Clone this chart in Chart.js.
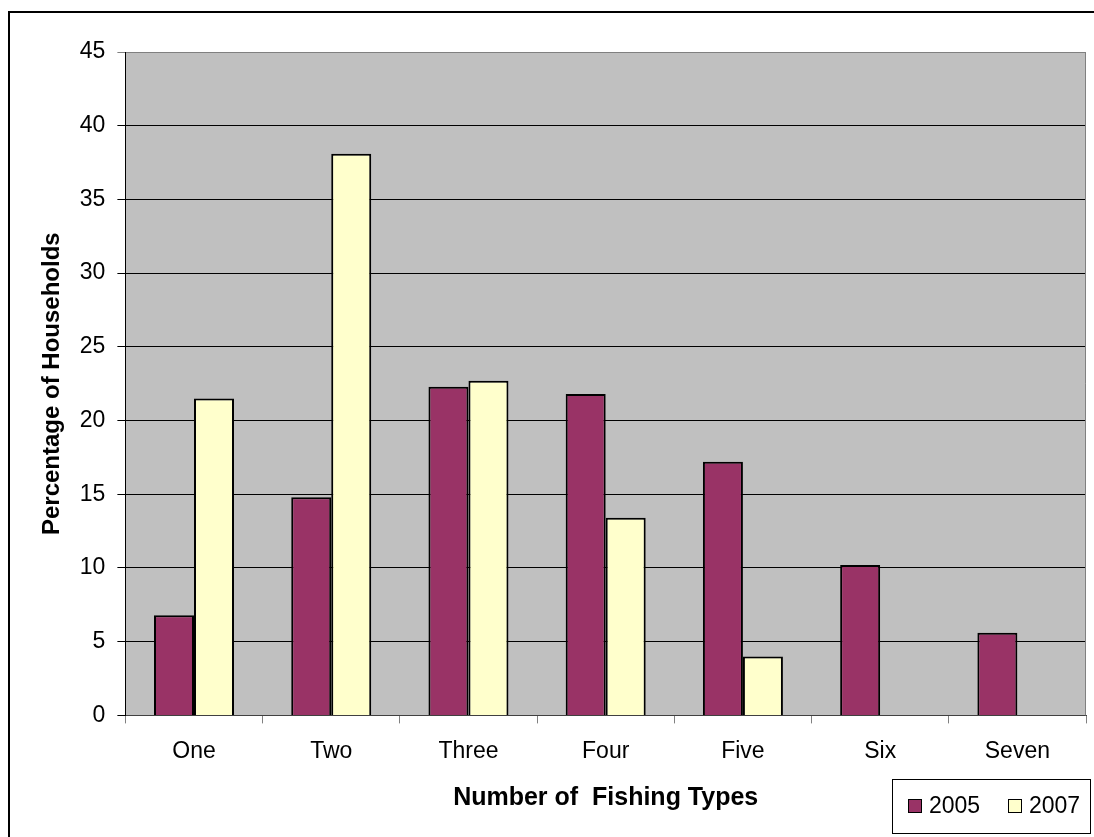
<!DOCTYPE html>
<html>
<head>
<meta charset="utf-8">
<title>Number of Fishing Types</title>
<script src="https://cdn.jsdelivr.net/npm/chart.js@4/dist/chart.umd.min.js"></script>
<style>
  html, body { margin: 0; padding: 0; background: #fff; overflow: hidden; }
  #wrap { position: absolute; left: 0; top: 0; width: 1094px; height: 837px; }
</style>
</head>
<body>
<div id="wrap"><canvas id="fishChart"></canvas></div>
<script>
// Share of households by number of fishing types used
const categories = ['One', 'Two', 'Three', 'Four', 'Five', 'Six', 'Seven'];
const households2005 = [6.8, 14.8, 22.3, 21.8, 17.2, 10.2, 5.6];
const households2007 = [21.5, 38.1, 22.7, 13.4, 4.0, null, null];
const yTickValues = [0, 5, 10, 15, 20, 25, 30, 35, 40, 45];

const FONT = '"Liberation Sans", Arial, sans-serif';
Chart.defaults.font.family = FONT;
Chart.defaults.color = '#000';

// page frame + grey plot area
const plotBackground = {
    id: 'plotBackground',
    beforeDraw(chart) {
        const ctx = chart.ctx;
        const a = chart.chartArea;
        ctx.save();
        ctx.fillStyle = '#fff';
        ctx.fillRect(0, 0, chart.width, chart.height);
        ctx.strokeStyle = '#000';
        ctx.lineWidth = 2;
        ctx.strokeRect(9, 12, chart.width + 20, chart.height + 20);
        ctx.fillStyle = '#c0c0c0';
        ctx.fillRect(a.left, a.top, a.right - a.left, a.bottom - a.top);
        ctx.restore();
    },
    beforeDatasetsDraw(chart) {
        const ctx = chart.ctx;
        const a = chart.chartArea;
        ctx.save();
        ctx.strokeStyle = '#808080';
        ctx.lineWidth = 1;
        ctx.beginPath();
        ctx.moveTo(a.right - 0.5, a.top);
        ctx.lineTo(a.right - 0.5, a.bottom);
        ctx.stroke();
        ctx.restore();
    }
};

// boxed legend in the bottom right corner
const boxLegend = {
    id: 'boxLegend',
    afterDraw(chart) {
        const ctx = chart.ctx;
        const a = chart.chartArea;
        const boxX = a.right - 194, boxY = 779, boxW = 198, boxH = 54;
        ctx.save();
        ctx.fillStyle = '#fff';
        ctx.fillRect(boxX, boxY, boxW, boxH);
        ctx.strokeStyle = '#000';
        ctx.lineWidth = 1;
        ctx.strokeRect(boxX + 0.5, boxY + 0.5, boxW, boxH);
        ctx.font = '23px ' + FONT;
        ctx.textBaseline = 'middle';
        let x = boxX + 16;
        const cy = boxY + boxH / 2;
        chart.data.datasets.forEach(ds => {
            ctx.fillStyle = ds.backgroundColor;
            ctx.fillRect(x, cy - 7, 13, 13);
            ctx.strokeRect(x + 0.5, cy - 6.5, 13, 13);
            ctx.fillStyle = '#000';
            ctx.fillText(ds.label, x + 21, cy + 1);
            x += 100;
        });
        ctx.restore();
    }
};

new Chart(document.getElementById('fishChart'), {
    type: 'bar',
    data: {
        labels: categories,
        datasets: [
            {
                label: '2005',
                data: households2005,
                backgroundColor: '#993366',
                borderColor: '#000',
                borderWidth: 2,
                categoryPercentage: 0.583,
                barPercentage: 1
            },
            {
                label: '2007',
                data: households2007,
                backgroundColor: '#ffffcc',
                borderColor: '#000',
                borderWidth: 2,
                categoryPercentage: 0.583,
                barPercentage: 1
            }
        ]
    },
    options: {
        responsive: true,
        maintainAspectRatio: false,
        animation: false,
        layout: { padding: { left: 38, top: 52, right: 8, bottom: 24 } },
        plugins: {
            legend: { display: false },
            tooltip: { enabled: false }
        },
        scales: {
            x: {
                grid: {
                    offset: true,
                    drawOnChartArea: false,
                    tickLength: 8,
                    color: '#808080'
                },
                border: { color: '#404040' },
                ticks: { font: { size: 23 }, padding: 14 },
                title: {
                    display: true,
                    text: 'Number of  Fishing Types',
                    font: { size: 25, weight: 'bold' },
                    padding: { top: 4, bottom: 0 }
                }
            },
            y: {
                min: 0,
                max: 45,
                afterBuildTicks(scale) {
                    scale.ticks = yTickValues.map(v => ({ value: v }));
                },
                grid: {
                    tickLength: 8,
                    color: ctx => (ctx.tick && ctx.tick.value === 45) ? '#808080' : '#000',
                    lineWidth: 1
                },
                border: { color: '#000' },
                ticks: { font: { size: 23 }, padding: 12 },
                title: {
                    display: true,
                    text: 'Percentage of Households',
                    font: { size: 24, weight: 'bold' },
                    padding: { top: 0, bottom: 1 }
                }
            }
        }
    },
    plugins: [plotBackground, boxLegend]
});
</script>
</body>
</html>
